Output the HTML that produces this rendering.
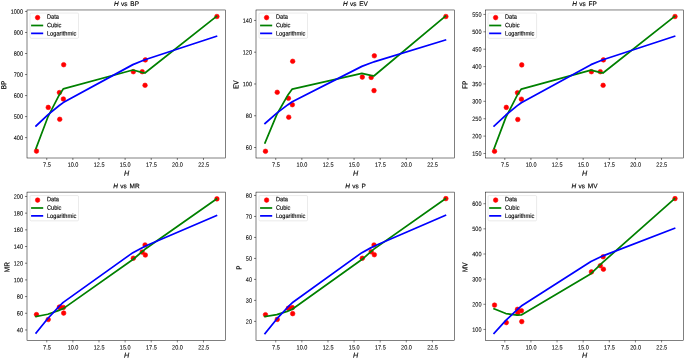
<!DOCTYPE html>
<html><head><meta charset="utf-8"><title>H regression plots</title><style>html,body{margin:0;padding:0;background:#fff;overflow:hidden}svg{display:block}svg{filter:blur(0.36px)}text{stroke:#000;stroke-width:0.14px}text.t{stroke-width:0.08px}</style></head><body>
<svg width="685" height="359" viewBox="0 0 685 359">
<rect width="685" height="359" fill="#fff"/>
<g font-family="'Liberation Sans', sans-serif">
<clipPath id="c0"><rect x="27" y="9.98" width="198.5" height="148.02"/></clipPath>
<g fill="#ff0000" stroke="#ff0000" stroke-width="0.58" clip-path="url(#c0)">
<circle cx="36.48" cy="151.1" r="2.3"/>
<circle cx="48.24" cy="107.41" r="2.3"/>
<circle cx="59.42" cy="92.6" r="2.3"/>
<circle cx="59.73" cy="119.31" r="2.3"/>
<circle cx="63.36" cy="98.99" r="2.3"/>
<circle cx="63.69" cy="64.7" r="2.3"/>
<circle cx="133.34" cy="71.7" r="2.3"/>
<circle cx="142.21" cy="71.7" r="2.3"/>
<circle cx="145.05" cy="85.31" r="2.3"/>
<circle cx="145.35" cy="59.91" r="2.3"/>
<circle cx="216.92" cy="16.51" r="2.3"/>
</g>
<polyline points="36.03,148.41 47.79,117.22 58.97,95.46 59.28,94.95 62.91,89.43 63.24,88.95 132.89,70.04 141.76,72.34 144.6,72.97 144.9,73.03 216.47,16.43" fill="none" stroke="#008000" stroke-width="1.72" stroke-linejoin="round" stroke-linecap="square" clip-path="url(#c0)"/>
<polyline points="36.03,125.94 47.79,114.88 58.97,105.79 59.28,105.55 62.91,102.86 63.24,102.61 132.89,64.63 141.76,61.01 144.6,59.89 144.9,59.77 216.47,36.29" fill="none" stroke="#0000ff" stroke-width="1.72" stroke-linejoin="round" stroke-linecap="square" clip-path="url(#c0)"/>
<rect x="27" y="9.98" width="198.5" height="148.02" fill="none" stroke="#000" stroke-width="0.5"/>
<path d="M46.75 158v2.03M72.87 158v2.03M98.99 158v2.03M125.11 158v2.03M151.23 158v2.03M177.35 158v2.03M203.47 158v2.03M27 137.62h-2.03M27 116.59h-2.03M27 95.57h-2.03M27 74.54h-2.03M27 53.51h-2.03M27 32.49h-2.03M27 11.46h-2.03" stroke="#000" stroke-width="0.5" fill="none"/>
<text transform="translate(46.9 166.82) rotate(0.05) scale(0.88 1)" font-size="6.3" text-anchor="middle" class="t">7.5</text>
<text transform="translate(73.02 166.82) rotate(0.05) scale(0.88 1)" font-size="6.3" text-anchor="middle" class="t">10.0</text>
<text transform="translate(99.14 166.82) rotate(0.05) scale(0.88 1)" font-size="6.3" text-anchor="middle" class="t">12.5</text>
<text transform="translate(125.26 166.82) rotate(0.05) scale(0.88 1)" font-size="6.3" text-anchor="middle" class="t">15.0</text>
<text transform="translate(151.38 166.82) rotate(0.05) scale(0.88 1)" font-size="6.3" text-anchor="middle" class="t">17.5</text>
<text transform="translate(177.5 166.82) rotate(0.05) scale(0.88 1)" font-size="6.3" text-anchor="middle" class="t">20.0</text>
<text transform="translate(203.62 166.82) rotate(0.05) scale(0.88 1)" font-size="6.3" text-anchor="middle" class="t">22.5</text>
<text transform="translate(23 139.89) rotate(0.05) scale(0.88 1)" font-size="6.3" text-anchor="end" class="t">400</text>
<text transform="translate(23 118.87) rotate(0.05) scale(0.88 1)" font-size="6.3" text-anchor="end" class="t">500</text>
<text transform="translate(23 97.84) rotate(0.05) scale(0.88 1)" font-size="6.3" text-anchor="end" class="t">600</text>
<text transform="translate(23 76.81) rotate(0.05) scale(0.88 1)" font-size="6.3" text-anchor="end" class="t">700</text>
<text transform="translate(23 55.79) rotate(0.05) scale(0.88 1)" font-size="6.3" text-anchor="end" class="t">800</text>
<text transform="translate(23 34.76) rotate(0.05) scale(0.88 1)" font-size="6.3" text-anchor="end" class="t">900</text>
<text transform="translate(23 13.73) rotate(0.05) scale(0.88 1)" font-size="6.3" text-anchor="end" class="t">1000</text>
<text transform="translate(126.55 175.73) rotate(0.05)" font-size="7.2" text-anchor="middle" font-style="italic">H</text>
<text transform="translate(6.3 84.9) rotate(-89.95) scale(0.87 1)" font-size="7.4" text-anchor="middle">BP</text>
<text transform="translate(126.5 5.89) rotate(0.05) scale(0.97 1)" font-size="6.7" text-anchor="middle"><tspan font-style="italic">H</tspan><tspan dx="0.55"> vs</tspan><tspan dx="1.0"> BP</tspan></text>
<rect x="30" y="13.05" width="48.53" height="25.27" rx="1.16" fill="#fff" fill-opacity="0.8" stroke="#cccccc" stroke-opacity="0.8" stroke-width="0.5"/>
<circle cx="37.6" cy="17.61" r="2.3" fill="#ff0000" stroke="#ff0000" stroke-width="0.58"/>
<path d="M31.95 25.49H42.34" stroke="#008000" stroke-width="1.72" stroke-linecap="square"/>
<path d="M31.95 33.37H42.34" stroke="#0000ff" stroke-width="1.72" stroke-linecap="square"/>
<text transform="translate(46.95 18.84) rotate(0.05) scale(0.9 1)" font-size="6.3">Data</text>
<text transform="translate(46.95 27.14) rotate(0.05) scale(0.9 1)" font-size="6.3">Cubic</text>
<text transform="translate(46.95 35.44) rotate(0.05) scale(0.9 1)" font-size="6.3">Logarithmic</text>
</g>
<g font-family="'Liberation Sans', sans-serif">
<clipPath id="c1"><rect x="256" y="9.98" width="198.45" height="148.02"/></clipPath>
<g fill="#ff0000" stroke="#ff0000" stroke-width="0.58" clip-path="url(#c1)">
<circle cx="265.47" cy="151.3" r="2.3"/>
<circle cx="277.24" cy="92.3" r="2.3"/>
<circle cx="288.41" cy="98.3" r="2.3"/>
<circle cx="288.73" cy="117.19" r="2.3"/>
<circle cx="292.35" cy="104.7" r="2.3"/>
<circle cx="292.68" cy="61.3" r="2.3"/>
<circle cx="362.31" cy="77.09" r="2.3"/>
<circle cx="371.18" cy="77.4" r="2.3"/>
<circle cx="374.02" cy="90.6" r="2.3"/>
<circle cx="374.33" cy="55.81" r="2.3"/>
<circle cx="445.88" cy="16.51" r="2.3"/>
</g>
<polyline points="265.02,142.92 276.79,114.55 287.96,94.91 288.28,94.46 291.9,89.51 292.23,89.08 361.86,73.44 370.73,75.44 373.57,75.95 373.88,76 445.43,16.22" fill="none" stroke="#008000" stroke-width="1.72" stroke-linejoin="round" stroke-linecap="square" clip-path="url(#c1)"/>
<polyline points="265.02,123.42 276.79,113.13 287.96,104.67 288.28,104.45 291.9,101.94 292.23,101.71 361.86,66.37 370.73,63 373.57,61.96 373.88,61.85 445.43,40" fill="none" stroke="#0000ff" stroke-width="1.72" stroke-linejoin="round" stroke-linecap="square" clip-path="url(#c1)"/>
<rect x="256" y="9.98" width="198.45" height="148.02" fill="none" stroke="#000" stroke-width="0.5"/>
<path d="M275.74 158v2.03M301.85 158v2.03M327.97 158v2.03M354.08 158v2.03M380.19 158v2.03M406.31 158v2.03M432.42 158v2.03M256 147.52h-2.03M256 115.74h-2.03M256 83.97h-2.03M256 52.2h-2.03M256 20.43h-2.03" stroke="#000" stroke-width="0.5" fill="none"/>
<text transform="translate(275.89 166.82) rotate(0.05) scale(0.88 1)" font-size="6.3" text-anchor="middle" class="t">7.5</text>
<text transform="translate(302 166.82) rotate(0.05) scale(0.88 1)" font-size="6.3" text-anchor="middle" class="t">10.0</text>
<text transform="translate(328.12 166.82) rotate(0.05) scale(0.88 1)" font-size="6.3" text-anchor="middle" class="t">12.5</text>
<text transform="translate(354.23 166.82) rotate(0.05) scale(0.88 1)" font-size="6.3" text-anchor="middle" class="t">15.0</text>
<text transform="translate(380.34 166.82) rotate(0.05) scale(0.88 1)" font-size="6.3" text-anchor="middle" class="t">17.5</text>
<text transform="translate(406.46 166.82) rotate(0.05) scale(0.88 1)" font-size="6.3" text-anchor="middle" class="t">20.0</text>
<text transform="translate(432.57 166.82) rotate(0.05) scale(0.88 1)" font-size="6.3" text-anchor="middle" class="t">22.5</text>
<text transform="translate(252 149.79) rotate(0.05) scale(0.88 1)" font-size="6.3" text-anchor="end" class="t">60</text>
<text transform="translate(252 118.02) rotate(0.05) scale(0.88 1)" font-size="6.3" text-anchor="end" class="t">80</text>
<text transform="translate(252 86.25) rotate(0.05) scale(0.88 1)" font-size="6.3" text-anchor="end" class="t">100</text>
<text transform="translate(252 54.47) rotate(0.05) scale(0.88 1)" font-size="6.3" text-anchor="end" class="t">120</text>
<text transform="translate(252 22.7) rotate(0.05) scale(0.88 1)" font-size="6.3" text-anchor="end" class="t">140</text>
<text transform="translate(355.53 175.73) rotate(0.05)" font-size="7.2" text-anchor="middle" font-style="italic">H</text>
<text transform="translate(238.5 84.7) rotate(-89.95) scale(0.87 1)" font-size="7.4" text-anchor="middle">EV</text>
<text transform="translate(355.48 5.89) rotate(0.05) scale(0.97 1)" font-size="6.7" text-anchor="middle"><tspan font-style="italic">H</tspan><tspan dx="0.55"> vs</tspan><tspan dx="1.0"> EV</tspan></text>
<rect x="259" y="13.05" width="48.53" height="25.27" rx="1.16" fill="#fff" fill-opacity="0.8" stroke="#cccccc" stroke-opacity="0.8" stroke-width="0.5"/>
<circle cx="266.59" cy="17.61" r="2.3" fill="#ff0000" stroke="#ff0000" stroke-width="0.58"/>
<path d="M260.95 25.49H271.34" stroke="#008000" stroke-width="1.72" stroke-linecap="square"/>
<path d="M260.95 33.37H271.34" stroke="#0000ff" stroke-width="1.72" stroke-linecap="square"/>
<text transform="translate(275.95 18.84) rotate(0.05) scale(0.9 1)" font-size="6.3">Data</text>
<text transform="translate(275.95 27.14) rotate(0.05) scale(0.9 1)" font-size="6.3">Cubic</text>
<text transform="translate(275.95 35.44) rotate(0.05) scale(0.9 1)" font-size="6.3">Logarithmic</text>
</g>
<g font-family="'Liberation Sans', sans-serif">
<clipPath id="c2"><rect x="485.05" y="9.98" width="198.55" height="148.02"/></clipPath>
<g fill="#ff0000" stroke="#ff0000" stroke-width="0.58" clip-path="url(#c2)">
<circle cx="494.53" cy="151.3" r="2.3"/>
<circle cx="506.3" cy="107.39" r="2.3"/>
<circle cx="517.48" cy="92.69" r="2.3"/>
<circle cx="517.79" cy="119.49" r="2.3"/>
<circle cx="521.42" cy="99.19" r="2.3"/>
<circle cx="521.75" cy="64.91" r="2.3"/>
<circle cx="591.42" cy="71.69" r="2.3"/>
<circle cx="600.29" cy="71.69" r="2.3"/>
<circle cx="603.13" cy="85.32" r="2.3"/>
<circle cx="603.43" cy="59.9" r="2.3"/>
<circle cx="675.02" cy="16.52" r="2.3"/>
</g>
<polyline points="494.08,148.54 505.85,117.36 517.03,95.6 517.34,95.09 520.97,89.57 521.3,89.09 590.97,70.05 599.84,72.34 602.68,72.96 602.98,73.02 674.57,16.44" fill="none" stroke="#008000" stroke-width="1.72" stroke-linejoin="round" stroke-linecap="square" clip-path="url(#c2)"/>
<polyline points="494.08,126.11 505.85,115.02 517.03,105.92 517.34,105.68 520.97,102.97 521.3,102.73 590.97,64.66 599.84,61.03 602.68,59.91 602.98,59.79 674.57,36.25" fill="none" stroke="#0000ff" stroke-width="1.72" stroke-linejoin="round" stroke-linecap="square" clip-path="url(#c2)"/>
<rect x="485.47" y="9.98" width="198.13" height="148.02" fill="none" stroke="#000" stroke-width="0.5"/>
<path d="M504.8 158v2.03M530.93 158v2.03M557.05 158v2.03M583.18 158v2.03M609.31 158v2.03M635.43 158v2.03M661.56 158v2.03M485.47 153.49h-2.03M485.47 136.11h-2.03M485.47 118.73h-2.03M485.47 101.34h-2.03M485.47 83.96h-2.03M485.47 66.58h-2.03M485.47 49.2h-2.03M485.47 31.81h-2.03M485.47 14.43h-2.03" stroke="#000" stroke-width="0.5" fill="none"/>
<text transform="translate(504.95 166.82) rotate(0.05) scale(0.88 1)" font-size="6.3" text-anchor="middle" class="t">7.5</text>
<text transform="translate(531.08 166.82) rotate(0.05) scale(0.88 1)" font-size="6.3" text-anchor="middle" class="t">10.0</text>
<text transform="translate(557.2 166.82) rotate(0.05) scale(0.88 1)" font-size="6.3" text-anchor="middle" class="t">12.5</text>
<text transform="translate(583.33 166.82) rotate(0.05) scale(0.88 1)" font-size="6.3" text-anchor="middle" class="t">15.0</text>
<text transform="translate(609.46 166.82) rotate(0.05) scale(0.88 1)" font-size="6.3" text-anchor="middle" class="t">17.5</text>
<text transform="translate(635.58 166.82) rotate(0.05) scale(0.88 1)" font-size="6.3" text-anchor="middle" class="t">20.0</text>
<text transform="translate(661.71 166.82) rotate(0.05) scale(0.88 1)" font-size="6.3" text-anchor="middle" class="t">22.5</text>
<text transform="translate(481.47 155.76) rotate(0.05) scale(0.88 1)" font-size="6.3" text-anchor="end" class="t">150</text>
<text transform="translate(481.47 138.38) rotate(0.05) scale(0.88 1)" font-size="6.3" text-anchor="end" class="t">200</text>
<text transform="translate(481.47 121) rotate(0.05) scale(0.88 1)" font-size="6.3" text-anchor="end" class="t">250</text>
<text transform="translate(481.47 103.62) rotate(0.05) scale(0.88 1)" font-size="6.3" text-anchor="end" class="t">300</text>
<text transform="translate(481.47 86.23) rotate(0.05) scale(0.88 1)" font-size="6.3" text-anchor="end" class="t">350</text>
<text transform="translate(481.47 68.85) rotate(0.05) scale(0.88 1)" font-size="6.3" text-anchor="end" class="t">400</text>
<text transform="translate(481.47 51.47) rotate(0.05) scale(0.88 1)" font-size="6.3" text-anchor="end" class="t">450</text>
<text transform="translate(481.47 34.09) rotate(0.05) scale(0.88 1)" font-size="6.3" text-anchor="end" class="t">500</text>
<text transform="translate(481.47 16.7) rotate(0.05) scale(0.88 1)" font-size="6.3" text-anchor="end" class="t">550</text>
<text transform="translate(584.62 175.73) rotate(0.05)" font-size="7.2" text-anchor="middle" font-style="italic">H</text>
<text transform="translate(467.45 84.9) rotate(-89.95) scale(0.87 1)" font-size="7.4" text-anchor="middle">FP</text>
<text transform="translate(584.58 5.89) rotate(0.05) scale(0.97 1)" font-size="6.7" text-anchor="middle"><tspan font-style="italic">H</tspan><tspan dx="0.55"> vs</tspan><tspan dx="1.0"> FP</tspan></text>
<rect x="488.05" y="13.05" width="48.53" height="25.27" rx="1.16" fill="#fff" fill-opacity="0.8" stroke="#cccccc" stroke-opacity="0.8" stroke-width="0.5"/>
<circle cx="495.64" cy="17.61" r="2.3" fill="#ff0000" stroke="#ff0000" stroke-width="0.58"/>
<path d="M490 25.49H500.39" stroke="#008000" stroke-width="1.72" stroke-linecap="square"/>
<path d="M490 33.37H500.39" stroke="#0000ff" stroke-width="1.72" stroke-linecap="square"/>
<text transform="translate(505 18.84) rotate(0.05) scale(0.9 1)" font-size="6.3">Data</text>
<text transform="translate(505 27.14) rotate(0.05) scale(0.9 1)" font-size="6.3">Cubic</text>
<text transform="translate(505 35.44) rotate(0.05) scale(0.9 1)" font-size="6.3">Logarithmic</text>
</g>
<g font-family="'Liberation Sans', sans-serif">
<clipPath id="c3"><rect x="27" y="192.1" width="198.5" height="148.3"/></clipPath>
<g fill="#ff0000" stroke="#ff0000" stroke-width="0.58" clip-path="url(#c3)">
<circle cx="36.48" cy="314.61" r="2.3"/>
<circle cx="48.24" cy="319.53" r="2.3"/>
<circle cx="59.42" cy="307.18" r="2.3"/>
<circle cx="59.73" cy="307.18" r="2.3"/>
<circle cx="63.36" cy="307.43" r="2.3"/>
<circle cx="63.69" cy="313.11" r="2.3"/>
<circle cx="133.34" cy="258.21" r="2.3"/>
<circle cx="142.21" cy="252.12" r="2.3"/>
<circle cx="145.05" cy="244.94" r="2.3"/>
<circle cx="145.35" cy="255.04" r="2.3"/>
<circle cx="216.92" cy="198.88" r="2.3"/>
</g>
<polyline points="36.03,316.61 47.79,314.26 58.97,310.43 59.28,310.3 62.91,308.74 63.24,308.59 132.89,259.5 141.76,251.98 144.6,249.57 144.9,249.31 216.47,198.96" fill="none" stroke="#008000" stroke-width="1.72" stroke-linejoin="round" stroke-linecap="square" clip-path="url(#c3)"/>
<polyline points="36.03,332.96 47.79,318.47 58.97,306.57 59.28,306.26 62.91,302.72 63.24,302.4 132.89,252.66 141.76,247.92 144.6,246.45 144.9,246.29 216.47,215.54" fill="none" stroke="#0000ff" stroke-width="1.72" stroke-linejoin="round" stroke-linecap="square" clip-path="url(#c3)"/>
<rect x="27" y="192.1" width="198.5" height="148.3" fill="none" stroke="#000" stroke-width="0.5"/>
<path d="M46.75 340.4v2.03M72.87 340.4v2.03M98.99 340.4v2.03M125.11 340.4v2.03M151.23 340.4v2.03M177.35 340.4v2.03M203.47 340.4v2.03M27 329.96h-2.03M27 313.27h-2.03M27 296.59h-2.03M27 279.9h-2.03M27 263.21h-2.03M27 246.53h-2.03M27 229.84h-2.03M27 213.15h-2.03M27 196.46h-2.03" stroke="#000" stroke-width="0.5" fill="none"/>
<text transform="translate(46.9 349.57) rotate(0.05) scale(0.88 1)" font-size="6.3" text-anchor="middle" class="t">7.5</text>
<text transform="translate(73.02 349.57) rotate(0.05) scale(0.88 1)" font-size="6.3" text-anchor="middle" class="t">10.0</text>
<text transform="translate(99.14 349.57) rotate(0.05) scale(0.88 1)" font-size="6.3" text-anchor="middle" class="t">12.5</text>
<text transform="translate(125.26 349.57) rotate(0.05) scale(0.88 1)" font-size="6.3" text-anchor="middle" class="t">15.0</text>
<text transform="translate(151.38 349.57) rotate(0.05) scale(0.88 1)" font-size="6.3" text-anchor="middle" class="t">17.5</text>
<text transform="translate(177.5 349.57) rotate(0.05) scale(0.88 1)" font-size="6.3" text-anchor="middle" class="t">20.0</text>
<text transform="translate(203.62 349.57) rotate(0.05) scale(0.88 1)" font-size="6.3" text-anchor="middle" class="t">22.5</text>
<text transform="translate(23 332.24) rotate(0.05) scale(0.88 1)" font-size="6.3" text-anchor="end" class="t">40</text>
<text transform="translate(23 315.55) rotate(0.05) scale(0.88 1)" font-size="6.3" text-anchor="end" class="t">60</text>
<text transform="translate(23 298.86) rotate(0.05) scale(0.88 1)" font-size="6.3" text-anchor="end" class="t">80</text>
<text transform="translate(23 282.17) rotate(0.05) scale(0.88 1)" font-size="6.3" text-anchor="end" class="t">100</text>
<text transform="translate(23 265.49) rotate(0.05) scale(0.88 1)" font-size="6.3" text-anchor="end" class="t">120</text>
<text transform="translate(23 248.8) rotate(0.05) scale(0.88 1)" font-size="6.3" text-anchor="end" class="t">140</text>
<text transform="translate(23 232.11) rotate(0.05) scale(0.88 1)" font-size="6.3" text-anchor="end" class="t">160</text>
<text transform="translate(23 215.42) rotate(0.05) scale(0.88 1)" font-size="6.3" text-anchor="end" class="t">180</text>
<text transform="translate(23 198.74) rotate(0.05) scale(0.88 1)" font-size="6.3" text-anchor="end" class="t">200</text>
<text transform="translate(126.55 357.68) rotate(0.05)" font-size="7.2" text-anchor="middle" font-style="italic">H</text>
<text transform="translate(9.6 267.2) rotate(-89.95) scale(0.87 1)" font-size="7.4" text-anchor="middle">MR</text>
<text transform="translate(126.5 188.16) rotate(0.05) scale(0.97 1)" font-size="6.7" text-anchor="middle"><tspan font-style="italic">H</tspan><tspan dx="0.55"> vs</tspan><tspan dx="1.0"> MR</tspan></text>
<rect x="30" y="195.55" width="48.53" height="25.27" rx="1.16" fill="#fff" fill-opacity="0.8" stroke="#cccccc" stroke-opacity="0.8" stroke-width="0.5"/>
<circle cx="37.6" cy="200.11" r="2.3" fill="#ff0000" stroke="#ff0000" stroke-width="0.58"/>
<path d="M31.95 207.99H42.34" stroke="#008000" stroke-width="1.72" stroke-linecap="square"/>
<path d="M31.95 215.87H42.34" stroke="#0000ff" stroke-width="1.72" stroke-linecap="square"/>
<text transform="translate(46.95 201.34) rotate(0.05) scale(0.9 1)" font-size="6.3">Data</text>
<text transform="translate(46.95 209.64) rotate(0.05) scale(0.9 1)" font-size="6.3">Cubic</text>
<text transform="translate(46.95 217.94) rotate(0.05) scale(0.9 1)" font-size="6.3">Logarithmic</text>
</g>
<g font-family="'Liberation Sans', sans-serif">
<clipPath id="c4"><rect x="256" y="192.1" width="198.45" height="148.3"/></clipPath>
<g fill="#ff0000" stroke="#ff0000" stroke-width="0.58" clip-path="url(#c4)">
<circle cx="265.47" cy="314.71" r="2.3"/>
<circle cx="277.24" cy="319.41" r="2.3"/>
<circle cx="288.41" cy="308.33" r="2.3"/>
<circle cx="288.73" cy="308.33" r="2.3"/>
<circle cx="292.35" cy="307.63" r="2.3"/>
<circle cx="292.68" cy="313.64" r="2.3"/>
<circle cx="362.31" cy="258.3" r="2.3"/>
<circle cx="371.18" cy="251.8" r="2.3"/>
<circle cx="374.02" cy="245.02" r="2.3"/>
<circle cx="374.33" cy="254.72" r="2.3"/>
<circle cx="445.88" cy="198.61" r="2.3"/>
</g>
<polyline points="265.02,316.57 276.79,314.64 287.96,311.06 288.28,310.93 291.9,309.43 292.23,309.28 361.86,259.54 370.73,251.84 373.57,249.38 373.88,249.12 445.43,198.68" fill="none" stroke="#008000" stroke-width="1.72" stroke-linejoin="round" stroke-linecap="square" clip-path="url(#c4)"/>
<polyline points="265.02,333.56 276.79,318.96 287.96,306.97 288.28,306.66 291.9,303.1 292.23,302.78 361.86,252.66 370.73,247.88 373.57,246.4 373.88,246.25 445.43,215.27" fill="none" stroke="#0000ff" stroke-width="1.72" stroke-linejoin="round" stroke-linecap="square" clip-path="url(#c4)"/>
<rect x="256" y="192.1" width="198.45" height="148.3" fill="none" stroke="#000" stroke-width="0.5"/>
<path d="M275.74 340.4v2.03M301.85 340.4v2.03M327.97 340.4v2.03M354.08 340.4v2.03M380.19 340.4v2.03M406.31 340.4v2.03M432.42 340.4v2.03M256 321.38h-2.03M256 300.39h-2.03M256 279.4h-2.03M256 258.41h-2.03M256 237.42h-2.03M256 216.43h-2.03M256 195.44h-2.03" stroke="#000" stroke-width="0.5" fill="none"/>
<text transform="translate(275.89 349.57) rotate(0.05) scale(0.88 1)" font-size="6.3" text-anchor="middle" class="t">7.5</text>
<text transform="translate(302 349.57) rotate(0.05) scale(0.88 1)" font-size="6.3" text-anchor="middle" class="t">10.0</text>
<text transform="translate(328.12 349.57) rotate(0.05) scale(0.88 1)" font-size="6.3" text-anchor="middle" class="t">12.5</text>
<text transform="translate(354.23 349.57) rotate(0.05) scale(0.88 1)" font-size="6.3" text-anchor="middle" class="t">15.0</text>
<text transform="translate(380.34 349.57) rotate(0.05) scale(0.88 1)" font-size="6.3" text-anchor="middle" class="t">17.5</text>
<text transform="translate(406.46 349.57) rotate(0.05) scale(0.88 1)" font-size="6.3" text-anchor="middle" class="t">20.0</text>
<text transform="translate(432.57 349.57) rotate(0.05) scale(0.88 1)" font-size="6.3" text-anchor="middle" class="t">22.5</text>
<text transform="translate(252 323.66) rotate(0.05) scale(0.88 1)" font-size="6.3" text-anchor="end" class="t">20</text>
<text transform="translate(252 302.67) rotate(0.05) scale(0.88 1)" font-size="6.3" text-anchor="end" class="t">30</text>
<text transform="translate(252 281.67) rotate(0.05) scale(0.88 1)" font-size="6.3" text-anchor="end" class="t">40</text>
<text transform="translate(252 260.68) rotate(0.05) scale(0.88 1)" font-size="6.3" text-anchor="end" class="t">50</text>
<text transform="translate(252 239.69) rotate(0.05) scale(0.88 1)" font-size="6.3" text-anchor="end" class="t">60</text>
<text transform="translate(252 218.7) rotate(0.05) scale(0.88 1)" font-size="6.3" text-anchor="end" class="t">70</text>
<text transform="translate(252 197.71) rotate(0.05) scale(0.88 1)" font-size="6.3" text-anchor="end" class="t">80</text>
<text transform="translate(355.53 357.68) rotate(0.05)" font-size="7.2" text-anchor="middle" font-style="italic">H</text>
<text transform="translate(241.4 267.5) rotate(-89.95) scale(0.87 1)" font-size="7.4" text-anchor="middle">P</text>
<text transform="translate(355.48 188.16) rotate(0.05) scale(0.97 1)" font-size="6.7" text-anchor="middle"><tspan font-style="italic">H</tspan><tspan dx="0.55"> vs</tspan><tspan dx="1.0"> P</tspan></text>
<rect x="259" y="195.55" width="48.53" height="25.27" rx="1.16" fill="#fff" fill-opacity="0.8" stroke="#cccccc" stroke-opacity="0.8" stroke-width="0.5"/>
<circle cx="266.59" cy="200.11" r="2.3" fill="#ff0000" stroke="#ff0000" stroke-width="0.58"/>
<path d="M260.95 207.99H271.34" stroke="#008000" stroke-width="1.72" stroke-linecap="square"/>
<path d="M260.95 215.87H271.34" stroke="#0000ff" stroke-width="1.72" stroke-linecap="square"/>
<text transform="translate(275.95 201.34) rotate(0.05) scale(0.9 1)" font-size="6.3">Data</text>
<text transform="translate(275.95 209.64) rotate(0.05) scale(0.9 1)" font-size="6.3">Cubic</text>
<text transform="translate(275.95 217.94) rotate(0.05) scale(0.9 1)" font-size="6.3">Logarithmic</text>
</g>
<g font-family="'Liberation Sans', sans-serif">
<clipPath id="c5"><rect x="485.05" y="192.1" width="198.55" height="148.3"/></clipPath>
<g fill="#ff0000" stroke="#ff0000" stroke-width="0.58" clip-path="url(#c5)">
<circle cx="494.53" cy="305.09" r="2.3"/>
<circle cx="506.3" cy="322.59" r="2.3"/>
<circle cx="517.48" cy="309.34" r="2.3"/>
<circle cx="517.79" cy="313.11" r="2.3"/>
<circle cx="521.42" cy="310.7" r="2.3"/>
<circle cx="521.75" cy="321.61" r="2.3"/>
<circle cx="591.42" cy="271.9" r="2.3"/>
<circle cx="600.29" cy="265.69" r="2.3"/>
<circle cx="603.13" cy="256.79" r="2.3"/>
<circle cx="603.43" cy="269.21" r="2.3"/>
<circle cx="675.02" cy="198.6" r="2.3"/>
</g>
<polyline points="494.08,308.77 505.85,313.53 517.03,315.06 517.34,315.07 520.97,314.97 521.3,314.95 590.97,273.73 599.84,265.23 602.68,262.45 602.98,262.15 674.57,198.73" fill="none" stroke="#008000" stroke-width="1.72" stroke-linejoin="round" stroke-linecap="square" clip-path="url(#c5)"/>
<polyline points="494.08,333.41 505.85,320.44 517.03,309.79 517.34,309.52 520.97,306.35 521.3,306.07 590.97,261.55 599.84,257.31 602.68,255.99 602.98,255.85 674.57,228.34" fill="none" stroke="#0000ff" stroke-width="1.72" stroke-linejoin="round" stroke-linecap="square" clip-path="url(#c5)"/>
<rect x="485.47" y="192.1" width="198.13" height="148.3" fill="none" stroke="#000" stroke-width="0.5"/>
<path d="M504.8 340.4v2.03M530.93 340.4v2.03M557.05 340.4v2.03M583.18 340.4v2.03M609.31 340.4v2.03M635.43 340.4v2.03M661.56 340.4v2.03M485.47 329.43h-2.03M485.47 304.29h-2.03M485.47 279.14h-2.03M485.47 254h-2.03M485.47 228.85h-2.03M485.47 203.71h-2.03" stroke="#000" stroke-width="0.5" fill="none"/>
<text transform="translate(504.95 349.57) rotate(0.05) scale(0.88 1)" font-size="6.3" text-anchor="middle" class="t">7.5</text>
<text transform="translate(531.08 349.57) rotate(0.05) scale(0.88 1)" font-size="6.3" text-anchor="middle" class="t">10.0</text>
<text transform="translate(557.2 349.57) rotate(0.05) scale(0.88 1)" font-size="6.3" text-anchor="middle" class="t">12.5</text>
<text transform="translate(583.33 349.57) rotate(0.05) scale(0.88 1)" font-size="6.3" text-anchor="middle" class="t">15.0</text>
<text transform="translate(609.46 349.57) rotate(0.05) scale(0.88 1)" font-size="6.3" text-anchor="middle" class="t">17.5</text>
<text transform="translate(635.58 349.57) rotate(0.05) scale(0.88 1)" font-size="6.3" text-anchor="middle" class="t">20.0</text>
<text transform="translate(661.71 349.57) rotate(0.05) scale(0.88 1)" font-size="6.3" text-anchor="middle" class="t">22.5</text>
<text transform="translate(481.47 331.7) rotate(0.05) scale(0.88 1)" font-size="6.3" text-anchor="end" class="t">100</text>
<text transform="translate(481.47 306.56) rotate(0.05) scale(0.88 1)" font-size="6.3" text-anchor="end" class="t">200</text>
<text transform="translate(481.47 281.41) rotate(0.05) scale(0.88 1)" font-size="6.3" text-anchor="end" class="t">300</text>
<text transform="translate(481.47 256.27) rotate(0.05) scale(0.88 1)" font-size="6.3" text-anchor="end" class="t">400</text>
<text transform="translate(481.47 231.13) rotate(0.05) scale(0.88 1)" font-size="6.3" text-anchor="end" class="t">500</text>
<text transform="translate(481.47 205.98) rotate(0.05) scale(0.88 1)" font-size="6.3" text-anchor="end" class="t">600</text>
<text transform="translate(584.62 357.68) rotate(0.05)" font-size="7.2" text-anchor="middle" font-style="italic">H</text>
<text transform="translate(467.6 267.2) rotate(-89.95) scale(0.87 1)" font-size="7.4" text-anchor="middle">MV</text>
<text transform="translate(584.58 188.16) rotate(0.05) scale(0.97 1)" font-size="6.7" text-anchor="middle"><tspan font-style="italic">H</tspan><tspan dx="0.55"> vs</tspan><tspan dx="1.0"> MV</tspan></text>
<rect x="488.05" y="195.55" width="48.53" height="25.27" rx="1.16" fill="#fff" fill-opacity="0.8" stroke="#cccccc" stroke-opacity="0.8" stroke-width="0.5"/>
<circle cx="495.64" cy="200.11" r="2.3" fill="#ff0000" stroke="#ff0000" stroke-width="0.58"/>
<path d="M490 207.99H500.39" stroke="#008000" stroke-width="1.72" stroke-linecap="square"/>
<path d="M490 215.87H500.39" stroke="#0000ff" stroke-width="1.72" stroke-linecap="square"/>
<text transform="translate(505 201.34) rotate(0.05) scale(0.9 1)" font-size="6.3">Data</text>
<text transform="translate(505 209.64) rotate(0.05) scale(0.9 1)" font-size="6.3">Cubic</text>
<text transform="translate(505 217.94) rotate(0.05) scale(0.9 1)" font-size="6.3">Logarithmic</text>
</g>
</svg>
</body></html>
